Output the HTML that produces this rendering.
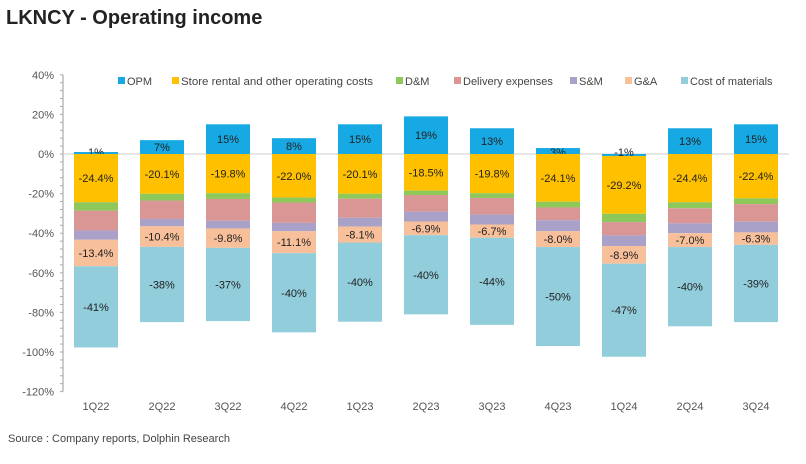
<!DOCTYPE html>
<html><head><meta charset="utf-8"><style>
body{margin:0;width:806px;height:459px;background:#fff;font-family:"Liberation Sans","DejaVu Sans",sans-serif;overflow:hidden}
svg text{font-family:"Liberation Sans","DejaVu Sans",sans-serif}
</style></head><body>
<svg id="c" width="806" height="459">
<text x="6" y="24" font-size="20" font-weight="bold" fill="#222">LKNCY - Operating income</text>
<text x="8" y="442" font-size="11" fill="#444">Source : Company reports, Dolphin Research</text>
<g id="plot"></g>
</svg>
<script>
const categories=["1Q22","2Q22","3Q22","4Q22","1Q23","2Q23","3Q23","4Q23","1Q24","2Q24","3Q24"];
const opm=[1,7,15,8,15,19,13,3,-1,13,15];
const rental=[-24.4,-20.1,-19.8,-22.0,-20.1,-18.5,-19.8,-24.1,-29.2,-24.4,-22.4];
const dm=[-4.2,-3.4,-2.9,-2.5,-2.5,-2.2,-2.4,-2.9,-4.2,-3.0,-2.9];
const delivery=[-10,-9.3,-11,-10.3,-9.6,-8.4,-8.4,-6.4,-6.7,-7.6,-8.9];
const sm=[-4.7,-3.7,-3.9,-4.2,-4.4,-5,-5,-5.6,-5.4,-5,-5.4];
const ga=[-13.4,-10.4,-9.8,-11.1,-8.1,-6.9,-6.7,-8.0,-8.9,-7.0,-6.3];
const materials=[-41,-38,-37,-40,-40,-40,-44,-50,-47,-40,-39];
const yTicks=[40,20,0,-20,-40,-60,-80,-100,-120];
const seriesNames=["OPM","Store rental and other operating costs","D&M","Delivery expenses","S&M","G&A","Cost of materials"];
const colors=["#17a9e3","#ffc000","#8fc85a","#d99694","#a9a1c8","#f7bf9a","#92cddc"];

const NS="http://www.w3.org/2000/svg";
const g=document.getElementById('plot');
const x0=63,bw=66,barW=44;
const y=v=>154-v*1.98;
const xc=i=>x0+bw*(i+0.5);
function mk(t,a){const e=document.createElementNS(NS,t);for(const k in a)e.setAttribute(k,a[k]);g.appendChild(e);return e;}

const ax=mk('line',{x1:x0,x2:x0,y1:y(40),y2:y(-120),stroke:'#999'});


const zl=mk('line',{x1:x0,x2:x0+bw*11,y1:y(0),y2:y(0),stroke:'#ccc'});


for(let v=40;v>=-120;v-=4){mk('line',{x1:x0-3,x2:x0,y1:y(v),y2:y(v),stroke:'#aaa'});}
yTicks.forEach(v=>{
 const t=mk('text',{x:x0-9,y:y(v)+4,'font-size':11,fill:'#555','text-anchor':'end'});
 t.textContent=v+'%';
 
 
});
categories.forEach((c,i)=>{
 const t=mk('text',{x:xc(i),y:410,'font-size':11,fill:'#555','text-anchor':'middle'});
 t.textContent=c;
 
 
});
const neg=[rental,dm,delivery,sm,ga,materials];
categories.forEach((c,i)=>{
 const xl=xc(i)-barW/2;
 const o=opm[i];
 const r=mk('rect',{x:xl,y:Math.min(y(o),y(0)),width:barW,height:Math.abs(y(o)-y(0)),fill:colors[0]});
 
 
 const ot=mk('text',{x:xc(i),y:Math.abs(o)<5?y(0)+2:y(o/2)+4,'font-size':11,fill:'#222','text-anchor':'middle'});
 ot.textContent=o+'%';
 
 
 let cum=Math.min(0,o);
 neg.forEach((s,k)=>{
  const v=s[i];
  const r2=mk('rect',{x:xl,y:y(cum),width:barW,height:y(cum+v)-y(cum),fill:colors[k+1]});
  
  
  if(k===0||k===4||k===5){
   const t=mk('text',{x:xc(i),y:y(cum+v/2)+4,'font-size':11,fill:'#222','text-anchor':'middle'});
   t.textContent=(k===5?Math.round(v):v.toFixed(1))+'%';
   
   
  }
  cum+=v;
 });
});
const lx=[118,172,396,454,570,625,681];
const lw=[0,192,0,0,0,0,0];
seriesNames.forEach((n,k)=>{
 const r=mk('rect',{x:lx[k],y:77,width:7,height:7,fill:colors[k]});
 
 
 const a={x:lx[k]+9,y:85,'font-size':11,fill:'#444'};
 if(lw[k]){a.textLength=lw[k];a.lengthAdjust='spacingAndGlyphs';}
 const t=mk('text',a);
 t.textContent=n;
 
 
});
</script>
</body></html>
